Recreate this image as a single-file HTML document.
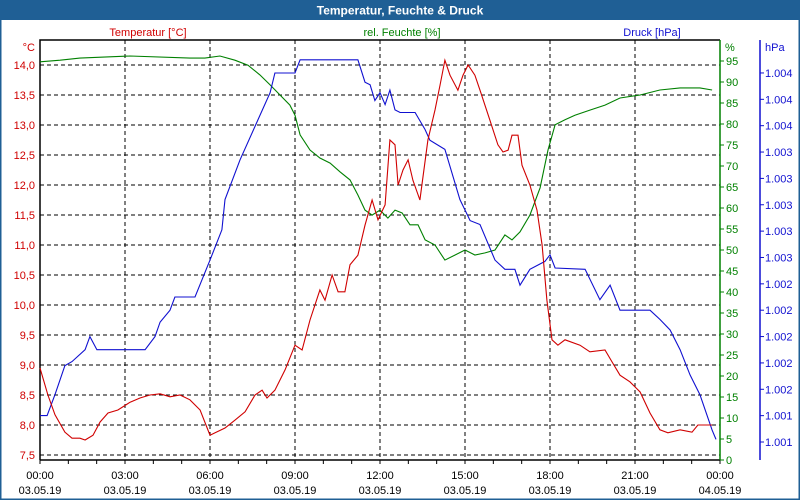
<!DOCTYPE html>
<html><head><meta charset="utf-8"><style>
body{margin:0;background:#fff;}
svg{display:block;font-family:"Liberation Sans",sans-serif;}
</style></head><body>
<svg id="chart" width="800" height="500" xmlns="http://www.w3.org/2000/svg">
<rect x="0" y="0" width="800" height="500" fill="#fff"/>
<rect x="0.5" y="0.5" width="799" height="499" fill="none" stroke="#1f5f95" stroke-width="2"/>
<rect x="0" y="0" width="800" height="20" fill="#1f5f95"/>
<text x="400" y="14.5" text-anchor="middle" fill="#fff" font-weight="bold" font-size="12">Temperatur, Feuchte &amp; Druck</text>
<text x="148" y="36" text-anchor="middle" fill="#d00000" font-size="11">Temperatur [°C]</text>
<text x="402" y="36" text-anchor="middle" fill="#008000" font-size="11">rel. Feuchte [%]</text>
<text x="652" y="36" text-anchor="middle" fill="#1010d0" font-size="11">Druck [hPa]</text>
<text x="35" y="51" text-anchor="end" fill="#d00000" font-size="11">°C</text>
<text x="725" y="51" fill="#008000" font-size="11">%</text>
<text x="765" y="51" fill="#1010d0" font-size="11">hPa</text>
<g id="grid"></g>
<g id="axes"></g>
<g id="series"></g>
</svg>
<script>
const tempTicks=[7.5,8.0,8.5,9.0,9.5,10.0,10.5,11.0,11.5,12.0,12.5,13.0,13.5,14.0];
const humTicks=[0,5,10,15,20,25,30,35,40,45,50,55,60,65,70,75,80,85,90,95];
const presTicks=[1001.2,1001.4,1001.6,1001.8,1002.0,1002.2,1002.4,1002.6,1002.8,1003.0,1003.2,1003.4,1003.6,1003.8,1004.0];
const timeTicks=[0,3,6,9,12,15,18,21,24];
const timeLabels=["00:00","03:00","06:00","09:00","12:00","15:00","18:00","21:00","00:00"];
const dateLabels=["03.05.19","03.05.19","03.05.19","03.05.19","03.05.19","03.05.19","03.05.19","03.05.19","04.05.19"];
const tempTimes=[0,0.28,0.53,0.88,1.13,1.41,1.59,1.87,2.12,2.4,2.75,3.18,3.53,3.88,4.24,4.59,4.94,5.29,5.65,6,6.18,6.53,6.88,7.24,7.59,7.84,8.01,8.29,8.65,9,9.25,9.53,9.88,10.06,10.31,10.52,10.76,10.94,11.22,11.47,11.72,11.93,12.18,12.35,12.53,12.64,12.81,12.99,13.16,13.41,13.69,13.94,14.12,14.29,14.47,14.75,14.93,15.11,15.35,15.53,15.88,16.16,16.34,16.52,16.66,16.87,17.01,17.29,17.54,17.72,17.89,18.07,18.28,18.53,19.06,19.41,19.94,20.19,20.47,20.82,21.18,21.53,21.88,22.16,22.59,23.01,23.22,23.72];
const tempValues=[8.95,8.5,8.17,7.88,7.78,7.78,7.75,7.83,8.05,8.2,8.25,8.38,8.45,8.5,8.52,8.47,8.5,8.42,8.25,7.83,7.87,7.95,8.08,8.22,8.5,8.58,8.45,8.58,8.92,9.33,9.25,9.75,10.25,10.08,10.5,10.22,10.22,10.67,10.83,11.33,11.75,11.42,11.67,12.75,12.67,12.0,12.25,12.42,12.08,11.75,12.75,13.25,13.67,14.08,13.83,13.58,13.83,14.0,13.83,13.58,13.08,12.67,12.55,12.58,12.83,12.83,12.33,12.0,11.58,11.0,10.08,9.42,9.33,9.42,9.33,9.22,9.25,9.05,8.83,8.72,8.55,8.2,7.92,7.87,7.92,7.88,8.0,8.0];
const humTimes=[0,0.71,1.41,3.18,5.29,5.82,6.35,6.88,7.34,7.76,8.12,8.47,8.82,9,9.18,9.53,9.88,10.24,10.59,10.94,11.22,11.47,11.72,12,12.28,12.53,12.78,13.06,13.34,13.59,13.94,14.29,14.65,15,15.35,15.71,16.06,16.41,16.66,16.94,17.29,17.65,17.93,18.18,18.53,18.88,19.41,19.94,20.47,21.18,21.88,22.59,23.29,23.72];
const humValues=[94.8,95.2,95.7,96.2,95.7,95.7,96.2,95.2,94.0,91.7,89.3,86.9,84.5,82.1,77.4,73.8,71.9,70.7,68.6,66.7,63.1,59.5,58.3,59.5,57.6,59.5,58.8,56.0,56.0,52.4,51.2,47.6,48.8,50.0,48.8,49.3,50.0,53.6,52.4,54.3,58.3,64.8,73.8,79.8,81.0,82.1,83.3,84.5,86.2,86.9,88.1,88.6,88.6,88.1];
const presTimes=[0,0.25,0.53,0.88,1.13,1.59,1.76,2.01,3.71,4.06,4.24,4.59,4.76,5.47,6.0,6.42,6.53,7.06,8.12,8.29,9.0,9.18,9.35,11.22,11.47,11.65,11.82,12.0,12.18,12.35,12.53,12.71,13.24,13.59,13.76,14.29,14.82,15.0,15.18,15.53,16.06,16.41,16.76,16.94,17.29,17.82,18.0,18.18,19.24,19.76,20.12,20.47,21.53,21.88,22.24,22.59,22.94,23.29,23.72,23.86];
const presValues=[1001.40,1001.40,1001.56,1001.78,1001.81,1001.90,1002.00,1001.90,1001.90,1002.00,1002.11,1002.20,1002.30,1002.30,1002.58,1002.81,1003.04,1003.34,1003.85,1004.00,1004.00,1004.10,1004.10,1004.10,1003.93,1003.91,1003.79,1003.85,1003.76,1003.87,1003.72,1003.70,1003.70,1003.57,1003.49,1003.42,1003.04,1002.96,1002.88,1002.85,1002.58,1002.51,1002.51,1002.39,1002.51,1002.57,1002.62,1002.52,1002.51,1002.28,1002.39,1002.20,1002.20,1002.13,1002.05,1001.90,1001.71,1001.56,1001.29,1001.22];

const NS="http://www.w3.org/2000/svg";
const X0=40,X1=720,YT=40,YB=460;
const xS=h=>X0+h*(X1-X0)/24;
const tY=t=>425-(t-8)*60;
const hY=v=>YB-v*4.2;
const pY=p=>442-(p-1001.2)/0.2*26.36;
function mk(parent,tag,attrs,text){const e=document.createElementNS(NS,tag);for(const k in attrs)e.setAttribute(k,attrs[k]);if(text!==undefined)e.textContent=text;document.getElementById(parent).appendChild(e);return e;}

tempTicks.forEach(t=>{
  const l=mk('grid','line',{x1:X0,x2:X1,y1:tY(t),y2:tY(t),stroke:'#000','stroke-dasharray':'4,3','stroke-width':1});
  
  
  const tx=mk('axes','text',{x:35,y:tY(t)+4,'text-anchor':'end',fill:'#d00000','font-size':11},t.toFixed(1).replace('.',','));
  
  
});
timeTicks.forEach((h,i)=>{
  if(i>0&&i<timeTicks.length-1){
    const l=mk('grid','line',{x1:xS(h),x2:xS(h),y1:YT,y2:YB,stroke:'#000','stroke-dasharray':'4,3','stroke-width':1});
    
    
  }
  const a=mk('axes','text',{x:xS(h),y:479,'text-anchor':'middle',fill:'#000','font-size':11},timeLabels[i]);
  
  
  const b=mk('axes','text',{x:xS(h),y:494,'text-anchor':'middle',fill:'#000','font-size':11},dateLabels[i]);
  
  
});
for(let h=0;h<=24;h++){
  const t=mk('axes','line',{x1:xS(h),x2:xS(h),y1:YB,y2:YB+4,stroke:'#000'});
  
  
}
const frame=mk('axes','path',{d:`M${X0},${YB} V${YT} H${X1}`,fill:'none',stroke:'#000','stroke-width':1.5});


const xa=mk('axes','line',{x1:X0,x2:X1,y1:YB,y2:YB,stroke:'#000','stroke-width':1.5});


const ga=mk('axes','line',{x1:X1,x2:X1,y1:YT,y2:YB,stroke:'#008000','stroke-width':1.5});


humTicks.forEach(v=>{
  const t=mk('axes','line',{x1:X1,x2:X1+4,y1:hY(v),y2:hY(v),stroke:'#008000'});
  
  
  const tx=mk('axes','text',{x:X1+6,y:hY(v)+4,fill:'#008000','font-size':11},String(v));
  
  
});
const pa=mk('axes','line',{x1:760,x2:760,y1:YT,y2:YB,stroke:'#1010d0','stroke-width':1.5});


presTicks.forEach(p=>{
  const t=mk('axes','line',{x1:760,x2:764,y1:pY(p),y2:pY(p),stroke:'#1010d0'});
  
  
  const tx=mk('axes','text',{x:765,y:pY(p)+4,fill:'#1010d0','font-size':11},(Math.round(p)/1000).toFixed(3));
  
  
});
function line(times,vals,yf,color,name){
  const d=times.map((t,i)=>(i?'L':'M')+xS(t).toFixed(1)+','+yf(vals[i]).toFixed(1)).join(' ');
  const p=mk('series','path',{d:d,fill:'none',stroke:color,'stroke-width':1.1});
  
  
}
line(humTimes,humValues,hY,'#008000','humidity-line');
line(presTimes,presValues,pY,'#1010d0','pressure-line');
line(tempTimes,tempValues,tY,'#d00000','temperature-line');
</script>
</body></html>
